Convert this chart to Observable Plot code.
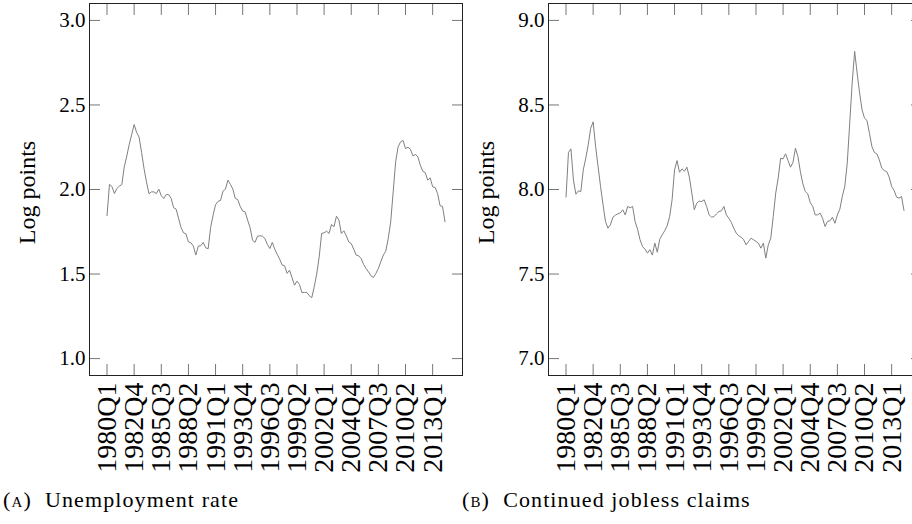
<!DOCTYPE html>
<html>
<head>
<meta charset="utf-8">
<script src="https://cdn.jsdelivr.net/npm/d3@7"></script>
<script src="https://cdn.jsdelivr.net/npm/@observablehq/plot@0.6"></script>
<style>
  html, body { margin: 0; padding: 0; background: #fff; }
  #wrap { position: relative; width: 912px; height: 524px; overflow: hidden; background: #fff; }
  .panel { position: absolute; top: 0; width: 480px; height: 480px; }
  .panel svg { max-width: none !important; }
  .cap { position: absolute; top: 489px; font-family: "Liberation Serif", "DejaVu Serif", "Times New Roman", serif; font-size: 22px; line-height: 22px; letter-spacing: 1.1px; color: #000; white-space: nowrap; }
  .sc { font-variant: small-caps; }
</style>
</head>
<body>
<div id="wrap">
  <div id="pA" class="panel" style="left:0px"></div>
  <div id="pB" class="panel" style="left:459px"></div>
  <div class="cap" style="left:3px">(<span class="sc">a</span>)&nbsp; Unemployment rate</div>
  <div class="cap" style="left:462px">(<span class="sc">b</span>)&nbsp; Continued jobless claims</div>
</div>
<script>
// Quarterly series, first observation 1980Q1
const startQuarter = "1980Q1";
const tickLabels = ["1980Q1","1982Q4","1985Q3","1988Q2","1991Q1","1993Q4","1996Q3","1999Q2","2002Q1","2004Q4","2007Q3","2010Q2","2013Q1"];

// (A) log unemployment rate
const unemployment = [
  1.845,2.030,2.018,1.976,2.006,2.020,2.030,2.134,2.197,2.266,
  2.325,2.384,2.337,2.310,2.220,2.124,2.045,1.975,1.986,1.986,
  1.976,2.002,1.963,1.947,1.970,1.970,1.947,1.892,1.884,1.830,
  1.775,1.744,1.738,1.690,1.685,1.665,1.612,1.665,1.667,1.687,
  1.655,1.650,1.775,1.848,1.910,1.930,1.935,1.990,2.002,2.055,
  2.031,2.002,1.947,1.940,1.900,1.872,1.868,1.819,1.774,1.700,
  1.687,1.724,1.726,1.724,1.710,1.675,1.651,1.687,1.647,1.616,
  1.588,1.553,1.549,1.504,1.523,1.478,1.434,1.458,1.439,1.391,
  1.391,1.391,1.372,1.360,1.425,1.500,1.600,1.740,1.744,1.754,
  1.740,1.793,1.780,1.842,1.819,1.740,1.756,1.726,1.690,1.680,
  1.647,1.612,1.608,1.592,1.557,1.533,1.513,1.490,1.480,1.504,
  1.533,1.573,1.612,1.635,1.710,1.809,1.986,2.164,2.252,2.282,
  2.290,2.242,2.250,2.238,2.199,2.207,2.193,2.144,2.108,2.100,
  2.055,2.069,2.016,2.012,1.976,1.904,1.900,1.809
];

// (B) log continued jobless claims
const claims = [
  7.955,8.219,8.240,8.057,7.972,7.992,7.988,8.116,8.185,8.264,
  8.362,8.400,8.254,8.136,8.018,7.910,7.811,7.771,7.791,7.836,
  7.848,7.856,7.862,7.880,7.850,7.900,7.892,7.900,7.811,7.765,
  7.703,7.663,7.647,7.624,7.644,7.612,7.683,7.629,7.706,7.732,
  7.756,7.785,7.840,7.939,8.116,8.171,8.102,8.122,8.108,8.132,
  8.073,7.978,7.880,7.919,7.931,7.929,7.939,7.900,7.850,7.836,
  7.840,7.856,7.870,7.874,7.900,7.850,7.830,7.805,7.771,7.742,
  7.726,7.718,7.703,7.673,7.693,7.712,7.703,7.693,7.683,7.653,
  7.683,7.594,7.673,7.712,7.840,7.978,8.067,8.185,8.181,8.211,
  8.171,8.132,8.160,8.244,8.195,8.106,8.034,7.988,7.974,7.923,
  7.900,7.850,7.850,7.860,7.830,7.781,7.811,7.815,7.836,7.800,
  7.850,7.884,7.959,8.018,8.155,8.392,8.630,8.817,8.689,8.571,
  8.471,8.422,8.408,8.333,8.254,8.219,8.211,8.175,8.126,8.112,
  8.106,8.073,8.018,7.994,7.955,7.949,7.959,7.876
];

const yTicksA = [1.0, 1.5, 2.0, 2.5, 3.0];
const yTicksB = [7.0, 7.5, 8.0, 8.5, 9.0];
const yLabel = "Log points";

function qIndex(label) {
  const y = +label.slice(0, 4), q = +label.slice(5);
  const y0 = +startQuarter.slice(0, 4), q0 = +startQuarter.slice(5);
  return (y - y0) * 4 + (q - q0);
}
const tickIdx = tickLabels.map(qIndex);
const labelOf = new Map(tickIdx.map((t, k) => [t, tickLabels[k]]));

function panel(values, yTicks) {
  const data = values.map((v, i) => ({i, v}));
  const pad = 7.1;
  const lo = yTicks[0], hi = yTicks[yTicks.length - 1];
  const ypad = (hi - lo) * 0.05;
  const tickColor = "#777";
  return Plot.plot({
    width: 480,
    height: 480,
    marginLeft: 89,
    marginRight: 18,
    marginTop: 3,
    marginBottom: 105,
    style: {fontFamily: "'Liberation Serif', 'DejaVu Serif', 'Times New Roman', serif", color: "#000", background: "transparent", maxWidth: "none"},
    x: {domain: [-pad, values.length - 1 + pad]},
    y: {domain: [lo - ypad, hi + ypad]},
    marks: [
      Plot.line(data, {x: "i", y: "v", stroke: "#808080", strokeWidth: 1}),
      Plot.axisX({anchor: "bottom", ticks: tickIdx, tickSize: -11, stroke: tickColor, tickPadding: 18,
        tickRotate: -90, fontSize: 28, fill: "#000", tickFormat: d => labelOf.get(d), label: null}),
      Plot.axisX({anchor: "top", ticks: tickIdx, tickSize: -11, stroke: tickColor, tickFormat: () => "", label: null}),
      Plot.axisY({anchor: "left", ticks: yTicks, tickSize: -11, stroke: tickColor, tickPadding: 15,
        fontSize: 21, fill: "#000", tickFormat: d3.format(".1f"), label: null}),
      Plot.axisY({anchor: "right", ticks: yTicks, tickSize: -11, stroke: tickColor, tickFormat: () => "", label: null}),
      Plot.text([yLabel], {frameAnchor: "left", dx: -62, dy: 3, rotate: -90, textAnchor: "middle", fontSize: 24, fill: "#000"}),
      Plot.frame({stroke: "#222", strokeWidth: 1})
    ]
  });
}

document.getElementById("pA").append(panel(unemployment, yTicksA));
document.getElementById("pB").append(panel(claims, yTicksB));
</script>
</body>
</html>
